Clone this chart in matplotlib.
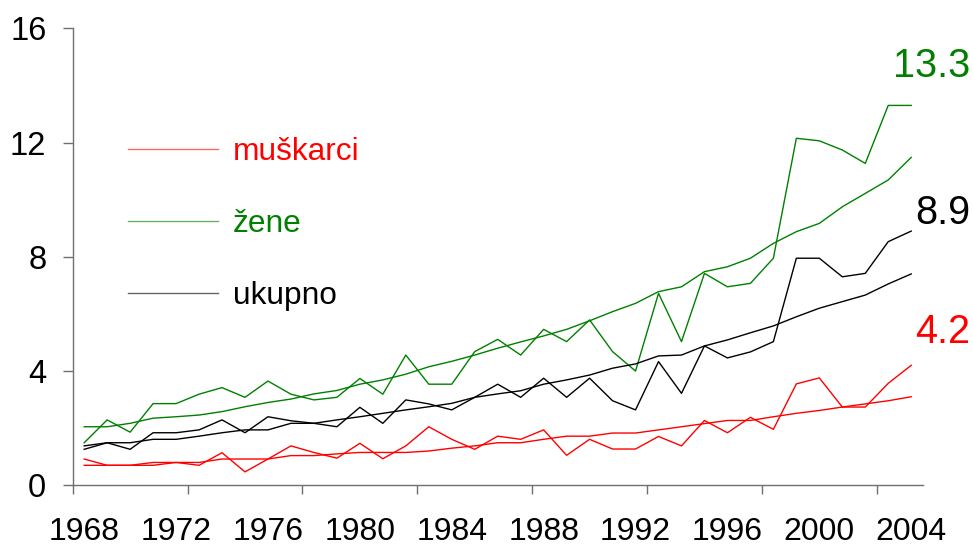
import matplotlib
matplotlib.use("Agg")
import matplotlib.pyplot as plt
import numpy as np

plt.rcParams['font.family'] = ['Liberation Sans', 'DejaVu Sans']

years = list(range(1968, 2005))

muskarci = [0.92, 0.70, 0.70, 0.80, 0.80, 0.70, 1.14, 0.47, 0.92, 1.38,
            1.15, 0.95, 1.47, 0.93, 1.38, 2.05, 1.61, 1.26, 1.72, 1.61,
            1.94, 1.05, 1.61, 1.27, 1.27, 1.71, 1.38, 2.27, 1.84, 2.38,
            1.96, 3.55, 3.76, 2.74, 2.74, 3.57, 4.2]
muskarci_trend = [0.70, 0.70, 0.70, 0.70, 0.80, 0.80, 0.92, 0.92, 0.92, 1.04,
                  1.04, 1.10, 1.15, 1.15, 1.15, 1.20, 1.30, 1.38, 1.49, 1.49,
                  1.61, 1.72, 1.72, 1.83, 1.83, 1.94, 2.05, 2.16, 2.27, 2.27,
                  2.40, 2.52, 2.62, 2.74, 2.85, 2.96, 3.10]

zene = [1.49, 2.29, 1.86, 2.86, 2.86, 3.19, 3.42, 3.08, 3.65, 3.19,
        2.99, 3.08, 3.74, 3.19, 4.56, 3.54, 3.54, 4.68, 5.11, 4.56,
        5.46, 5.03, 5.79, 4.68, 4.00, 6.72, 5.03, 7.42, 6.95, 7.07,
        7.95, 12.15, 12.06, 11.74, 11.27, 13.3, 13.3]
zene_trend = [2.05, 2.05, 2.17, 2.35, 2.40, 2.46, 2.58, 2.75, 2.90, 3.02,
              3.20, 3.32, 3.54, 3.69, 3.89, 4.15, 4.34, 4.56, 4.80, 5.02,
              5.23, 5.46, 5.76, 6.08, 6.37, 6.78, 6.95, 7.48, 7.65, 7.95,
              8.47, 8.88, 9.17, 9.75, 10.22, 10.69, 11.48]

ukupno = [1.26, 1.49, 1.26, 1.84, 1.84, 1.94, 2.29, 1.84, 2.40, 2.26,
          2.17, 2.05, 2.73, 2.17, 2.99, 2.85, 2.64, 3.08, 3.54, 3.08,
          3.75, 3.08, 3.75, 2.96, 2.64, 4.33, 3.22, 4.88, 4.46, 4.67,
          5.03, 7.95, 7.95, 7.30, 7.42, 8.53, 8.9]
ukupno_trend = [1.38, 1.49, 1.49, 1.61, 1.61, 1.72, 1.84, 1.94, 1.94, 2.17,
                2.17, 2.29, 2.40, 2.52, 2.64, 2.75, 2.87, 3.08, 3.20, 3.31,
                3.54, 3.69, 3.86, 4.10, 4.25, 4.53, 4.56, 4.88, 5.09, 5.34,
                5.58, 5.90, 6.20, 6.43, 6.66, 7.05, 7.40]

labels = ['muškarci', 'žene', 'ukupno']
colors = ['#FF0000', '#008000', '#000000']
yticks = [0, 4, 8, 12, 16]
label_years = list(range(1968, 2005, 4))

W, H = 973, 546
fig = plt.figure(figsize=(W / 100, H / 100), dpi=100)
ax = fig.add_axes([72.7 / W, 1 - 485.3 / H, 850 / W, 457 / H])

x = np.arange(len(years))
series = [(muskarci, muskarci_trend), (zene, zene_trend), (ukupno, ukupno_trend)]
handles = []
for (raw, trend), c, lab in zip(series, colors, labels):
    h, = ax.plot(x, raw, color=c, lw=1.0, label=lab)
    ax.plot(x, trend, color=c, lw=1.0)
    handles.append(h)

ax.set_xlim(-0.5, len(years) - 0.5)
ax.set_ylim(0, 16)
ax.set_yticks(yticks)
ax.set_yticklabels([str(v) for v in yticks])

# major ticks at category boundaries every 5 categories (no labels)
ax.set_xticks(np.arange(-0.5, len(years) - 0.5, 5))
ax.set_xticklabels([])
# labels every 4 years, centred on categories
ax.set_xticks([years.index(y) for y in label_years], minor=True)
ax.set_xticklabels([str(y) for y in label_years], minor=True)

spine_c = '#707070'
for s in ['top', 'right']:
    ax.spines[s].set_visible(False)
for s in ['left', 'bottom']:
    ax.spines[s].set_color(spine_c)
    ax.spines[s].set_linewidth(1.0)

ax.tick_params(axis='x', which='major', direction='out', length=6.5, width=1.0, color=spine_c)
ax.tick_params(axis='x', which='minor', length=0, pad=22.5, labelsize=23)
ax.tick_params(axis='y', which='major', direction='out', length=7, width=1.0, color=spine_c,
               pad=12, labelsize=23.5)

leg = ax.legend(handles=handles, loc='center left',
                bbox_to_anchor=(128 / W, 1 - 224 / H), bbox_transform=fig.transFigure,
                frameon=False, fontsize=22.8, handlelength=2.84, handletextpad=0.47,
                labelspacing=1.32, borderpad=0, borderaxespad=0)
for t, c in zip(leg.get_texts(), colors):
    t.set_color(c)
for lh in leg.get_lines():
    lh.set_alpha(0.6)

# end-value annotations
ends = [(muskarci[-1], colors[0], 331.7), (zene[-1], colors[1], 65.7), (ukupno[-1], colors[2], 212.7)]
for val, c, ypx in ends:
    fig.text(970 / W, 1 - ypx / H, f"{val:.1f}", color=c, fontsize=28.5,
             ha='right', va='center')

fig.savefig('out.png', dpi=100)
